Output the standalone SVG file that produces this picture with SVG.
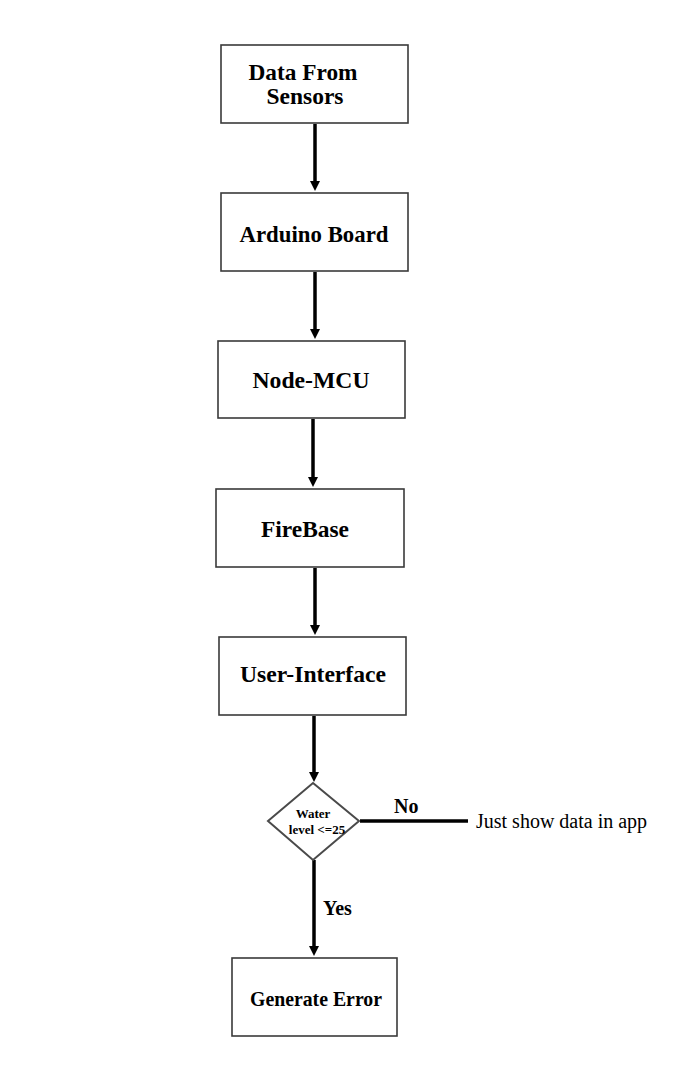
<svg xmlns="http://www.w3.org/2000/svg" width="676" height="1087" viewBox="0 0 676 1087">
<style>
.box{fill:#fff;stroke:#3a3a3a;stroke-width:1.6}
.dia{fill:#fff;stroke:#4a4a4a;stroke-width:2}
.t{font-family:"Liberation Serif","Times New Roman",serif;font-weight:bold;font-size:22.5px;fill:#000;text-anchor:middle}
.s{font-family:"Liberation Serif","Times New Roman",serif;font-weight:bold;font-size:13px;fill:#000;text-anchor:middle}
.l{font-family:"Liberation Serif","Times New Roman",serif;font-weight:bold;font-size:20px;fill:#000}
.r{font-family:"Liberation Serif","Times New Roman",serif;font-size:20px;fill:#000}
.c{stroke:#000;stroke-width:3.5;fill:none}
</style>
<rect width="676" height="1087" fill="#fff"/>
<g id="connectors">
<line class="c" x1="315" y1="124" x2="315" y2="181"/><polygon points="310,181 320,181 315,191" fill="#000"/>
<line class="c" x1="315" y1="272" x2="315" y2="329"/><polygon points="310,329 320,329 315,339" fill="#000"/>
<line class="c" x1="313" y1="419" x2="313" y2="477"/><polygon points="308,477 318,477 313,487" fill="#000"/>
<line class="c" x1="315" y1="568" x2="315" y2="625"/><polygon points="310,625 320,625 315,635" fill="#000"/>
<line class="c" x1="314" y1="716" x2="314" y2="772"/><polygon points="309,772 319,772 314,782" fill="#000"/>
<line class="c" x1="360" y1="821" x2="468" y2="821"/>
<line class="c" x1="314" y1="860" x2="314" y2="946"/><polygon points="309,946 319,946 314,956" fill="#000"/>
<text class="l" x="394" y="813">No</text>
<text class="l" x="323" y="915">Yes</text>
</g>
<g id="n1"><rect class="box" x="221" y="45" width="187" height="78"/><text class="t" x="303" y="80" textLength="109" lengthAdjust="spacingAndGlyphs">Data From</text><text class="t" x="305" y="104" textLength="77" lengthAdjust="spacingAndGlyphs">Sensors</text></g>
<g id="n2"><rect class="box" x="221" y="193" width="187" height="78"/><text class="t" x="314" y="242" textLength="149" lengthAdjust="spacingAndGlyphs">Arduino Board</text></g>
<g id="n3"><rect class="box" x="218" y="341" width="187" height="77"/><text class="t" x="311" y="388" textLength="117" lengthAdjust="spacingAndGlyphs">Node-MCU</text></g>
<g id="n4"><rect class="box" x="216" y="489" width="188" height="78"/><text class="t" x="305" y="537" textLength="88" lengthAdjust="spacingAndGlyphs">FireBase</text></g>
<g id="n5"><rect class="box" x="219" y="637" width="187" height="78"/><text class="t" x="313" y="682" textLength="146" lengthAdjust="spacingAndGlyphs">User-Interface</text></g>
<g id="n6"><polygon class="dia" points="313,783 359,821 313,860 268,821"/><text class="s" x="313" y="818">Water</text><text class="s" x="317" y="834">level &lt;=25</text></g>
<g id="n7"><text class="r" x="476" y="828">Just show data in app</text></g>
<g id="n8"><rect class="box" x="232" y="958" width="165" height="78"/><text class="t" x="316" y="1006" style="font-size:21px" textLength="132" lengthAdjust="spacingAndGlyphs">Generate Error</text></g>
</svg>
